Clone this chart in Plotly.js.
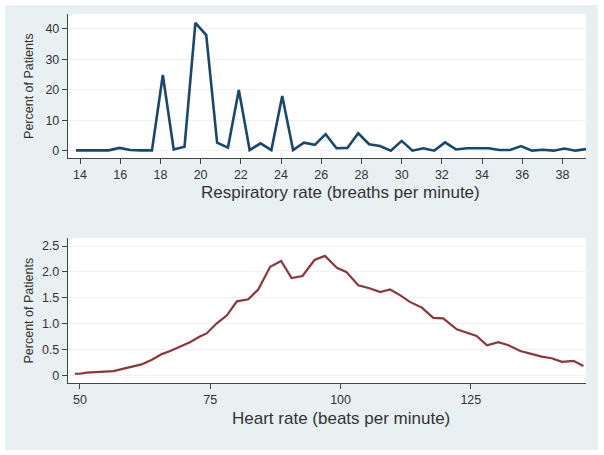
<!DOCTYPE html>
<html>
<head>
<meta charset="utf-8">
<script src="https://cdn.plot.ly/plotly-3.0.1.min.js"></script>
<style>
html,body{margin:0;padding:0;background:#ffffff;}
#chart{position:absolute;left:5px;top:5px;width:593px;height:445px;}
</style>
</head>
<body>
<div id="chart"></div>
<script>
// Respiratory rate distribution (breaths per minute -> percent of patients)
const respRate = [13.8,14.34,14.88,15.42,15.96,16.5,17.04,17.58,18.12,18.66,19.2,19.74,20.28,20.82,21.36,21.9,22.44,22.98,23.52,24.06,24.6,25.14,25.68,26.22,26.76,27.3,27.84,28.38,28.92,29.46,30.0,30.54,31.08,31.62,32.16,32.7,33.24,33.78,34.32,34.86,35.4,35.94,36.48,37.02,37.56,38.1,38.64,39.18];
const respPct = [0.2,0.15,0.15,0.2,1.0,0.3,0.2,0.2,24.9,0.5,1.4,42,38,2.7,1.1,20,0.3,2.5,0.3,18,0.3,2.7,2.0,5.5,0.9,1.0,5.8,2.2,1.6,0.1,3.3,0.1,0.9,0.1,2.8,0.5,0.9,0.9,0.9,0.3,0.3,1.6,0.1,0.4,0.1,0.8,0.1,0.6];

// Heart rate distribution (beats per minute -> percent of patients)
const heartRate = [49,50,51.3,54.2,56.4,58,59.9,61.8,63.8,65.7,67.3,69.2,71.1,73.0,74.3,76.2,78.2,80.1,82.3,84.2,86.5,88.6,90.6,92.7,95.0,97.0,99.3,101.1,103.4,105.7,107.6,109.5,111.4,113.3,115.6,117.8,119.7,122.3,124.2,126.1,128.1,130.3,132.2,134.5,136.4,138.6,140.5,142.5,144.7,146.6];
const heartPct = [0.03,0.03,0.05,0.06,0.08,0.12,0.17,0.21,0.30,0.41,0.47,0.55,0.64,0.75,0.81,1.0,1.16,1.43,1.47,1.66,2.10,2.21,1.88,1.92,2.23,2.31,2.08,2.0,1.74,1.68,1.61,1.66,1.55,1.42,1.31,1.11,1.10,0.89,0.82,0.76,0.58,0.64,0.58,0.47,0.42,0.36,0.33,0.26,0.28,0.18];

const respTicks = [14,16,18,20,22,24,26,28,30,32,34,36,38];
const respYTicks = [0,10,20,30,40];
const heartTicks = [50,75,100,125];
const heartYTicks = [0,0.5,1.0,1.5,2.0,2.5];
const heartYTickText = ["0","0.5","1.0","1.5","2.0","2.5"];

const respTitle = "Respiratory rate (breaths per minute)";
const heartTitle = "Heart rate (beats per minute)";
const yTitle = "Percent of Patients";

const FONT = "Liberation Sans, Arial, sans-serif";
const TXT = "#333333";

const traces = [
  {x: respRate, y: respPct, type: "scatter", mode: "lines", xaxis: "x", yaxis: "y",
   line: {color: "#1a476f", width: 2.6}, hoverinfo: "skip"},
  {x: heartRate, y: heartPct, type: "scatter", mode: "lines", xaxis: "x2", yaxis: "y2",
   line: {color: "#90353b", width: 2.2}, hoverinfo: "skip"}
];

const axCommon = {
  showline: true, linecolor: "#444444", linewidth: 1.2,
  ticks: "outside", ticklen: 5, tickwidth: 1, tickcolor: "#444444",
  tickfont: {family: FONT, size: 12.5, color: TXT},
  zeroline: false, mirror: false, fixedrange: true
};

const layout = {
  width: 593, height: 445,
  paper_bgcolor: "#e9f0f2", plot_bgcolor: "#ffffff",
  margin: {l: 63, r: 12, t: 9, b: 67},
  showlegend: false,
  font: {family: FONT, color: TXT},
  xaxis: Object.assign({}, axCommon, {domain: [0, 1], anchor: "y", range: [13.403, 39.17],
    tickmode: "array", tickvals: respTicks, showgrid: false}),
  yaxis: Object.assign({}, axCommon, {domain: [0.6098, 1], anchor: "x", range: [-2.3, 44.9],
    tickmode: "array", tickvals: respYTicks, showgrid: true, gridcolor: "#edf2f4", gridwidth: 1}),
  xaxis2: Object.assign({}, axCommon, {domain: [0, 1], anchor: "y2", range: [47.7, 147.1],
    tickmode: "array", tickvals: heartTicks, showgrid: false}),
  yaxis2: Object.assign({}, axCommon, {domain: [0, 0.393], anchor: "x2", range: [-0.149, 2.656],
    tickmode: "array", tickvals: heartYTicks, ticktext: heartYTickText, showgrid: true, gridcolor: "#edf2f4", gridwidth: 1}),
  annotations: [
    {text: respTitle, xref: "paper", yref: "paper", x: 0.527, y: 0.515, xanchor: "center", yanchor: "middle",
     showarrow: false, font: {family: FONT, size: 17, color: TXT}},
    {text: heartTitle, xref: "paper", yref: "paper", x: 0.527, y: -0.0949, xanchor: "center", yanchor: "middle",
     showarrow: false, font: {family: FONT, size: 17, color: TXT}},
    {text: yTitle, xref: "paper", yref: "paper", x: -0.0753, y: 0.805, xanchor: "center", yanchor: "middle",
     textangle: -90, showarrow: false, font: {family: FONT, size: 12.5, color: TXT}},
    {text: yTitle, xref: "paper", yref: "paper", x: -0.0753, y: 0.1965, xanchor: "center", yanchor: "middle",
     textangle: -90, showarrow: false, font: {family: FONT, size: 12.5, color: TXT}}
  ]
};

Plotly.newPlot("chart", traces, layout, {displayModeBar: false, staticPlot: true});
</script>
</body>
</html>
